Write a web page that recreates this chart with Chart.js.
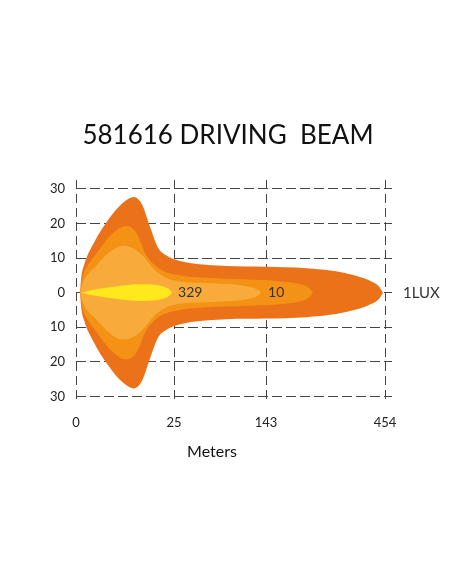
<!DOCTYPE html>
<html>
<head>
<meta charset="utf-8">
<script src="https://cdn.jsdelivr.net/npm/chart.js@4"></script>
<style>
  html, body { margin: 0; padding: 0; background: #fff; }
  canvas { display: block; }
</style>
</head>
<body>
<canvas id="beam" width="452" height="584"></canvas>
<script>
// x positions are on a stretched distance axis; tickPos maps to the printed meters
const tickPos = [0, 98, 190, 309];
const tickLabels = ['0', '25', '143', '454'];
const yTicks = [-30, -20, -10, 0, 10, 20, 30];

// half widths (upper edge) of each lux zone, mirrored below the axis
const outerX = [4, 5, 8, 18, 32, 46, 58, 66, 74, 82, 90, 100, 115, 150, 190, 230, 260, 280, 295, 303, 307];
const outerY = [0, 4, 8, 14.5, 21, 25.8, 27.7, 25.5, 19, 13, 10.8, 9.5, 8.5, 7.7, 7.5, 7.1, 6.2, 4.9, 3.3, 1.8, 0];
const middleX = [4, 6, 12, 22, 36, 50, 60, 70, 83, 98, 130, 170, 200, 222, 232, 237];
const middleY = [0, 4, 8, 12, 17, 19.3, 17.5, 11, 7, 5.3, 4.3, 3.8, 3.4, 2.6, 1.6, 0];
const lightX = [4, 7, 20, 33, 46, 56, 67, 80, 97, 130, 160, 175, 182, 185];
const lightY = [0, 3, 7.7, 11.6, 13.5, 13, 10.6, 6.2, 3.6, 2.8, 2.3, 1.6, 0.8, 0];
const yellowX = [5, 15, 30, 45, 64, 80, 88, 93, 96];
const yellowY = [0, 0.7, 1.4, 2, 2.4, 2.2, 1.7, 1, 0];

const luxLabels = ['329', '10'];
const luxAt = [102, 192];

const zones = [
  { xs: yellowX, ys: yellowY, color: '#FFE81C', order: 1 },
  { xs: lightX, ys: lightY, color: '#F8AB3B', order: 2 },
  { xs: middleX, ys: middleY, color: '#F39214', order: 3 },
  { xs: outerX, ys: outerY, color: '#EC7219', order: 4 }
];

const datasets = [];
zones.forEach(z => {
  const common = { borderWidth: 0, pointRadius: 0, cubicInterpolationMode: 'monotone', order: z.order };
  datasets.push({ ...common, data: z.xs.map((x, i) => ({ x, y: z.ys[i] })), backgroundColor: z.color, fill: '+1' });
  datasets.push({ ...common, data: z.xs.map((x, i) => ({ x, y: -z.ys[i] })), fill: false });
});

const beamText = {
  id: 'beamText',
  afterDraw(chart) {
    const { ctx, scales: { x, y } } = chart;
    ctx.save();
    ctx.fillStyle = '#111';
    ctx.textBaseline = 'middle';
    ctx.textAlign = 'center';
    ctx.font = '26px Lato';
    ctx.fillText('581616 DRIVING  BEAM', 228, 136);
    ctx.font = '16px Lato';
    ctx.fillText('Meters', 212, 452);
    ctx.textAlign = 'left';
    ctx.fillStyle = '#333';
    ctx.font = '14px Lato';
    luxLabels.forEach((t, i) => ctx.fillText(t, x.getPixelForValue(luxAt[i]), y.getPixelForValue(0)));
    ctx.font = '15px Lato';
    ctx.fillText('1LUX', x.getPixelForValue(327), y.getPixelForValue(0));
    ctx.restore();
  }
};

new Chart(document.getElementById('beam'), {
  type: 'line',
  data: { datasets },
  plugins: [beamText],
  options: {
    responsive: false,
    animation: false,
    events: [],
    layout: { padding: { left: 39, right: 60, bottom: 141, top: 180 } },
    plugins: {
      legend: { display: false },
      tooltip: { enabled: false },
      title: { display: false }
    },
    scales: {
      x: {
        type: 'linear', min: 0, max: 316, z: 1,
        afterBuildTicks: s => { s.ticks = tickPos.map(v => ({ value: v })); },
        ticks: {
          color: '#222', padding: 12, maxRotation: 0,
          font: { family: 'Lato', size: 13 },
          callback: v => tickLabels[tickPos.indexOf(v)]
        },
        grid: { color: '#444', lineWidth: 1, drawTicks: false },
        border: { display: false, dash: [9, 5] }
      },
      y: {
        type: 'linear', min: -32.04, max: 32.6, z: 1,
        afterBuildTicks: s => { s.ticks = yTicks.map(v => ({ value: v })); },
        ticks: {
          color: '#222', padding: 11,
          font: { family: 'Lato', size: 13 },
          callback: v => Math.abs(v)
        },
        grid: { color: '#444', lineWidth: 1, drawTicks: false },
        border: { display: false, dash: [10, 4] }
      }
    }
  }
});
</script>
</body>
</html>
